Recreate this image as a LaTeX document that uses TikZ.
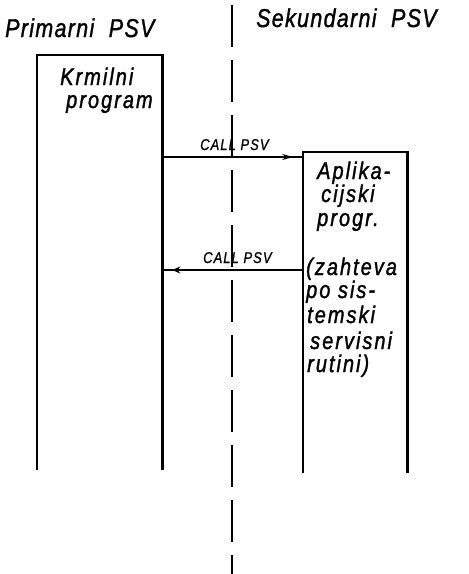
\documentclass[tikz,border=0pt]{standalone}
\usepackage{fontspec}
\usepackage{graphicx}
\setmainfont{Liberation Sans}
\newfontfamily\handfont[LetterSpace=10,FakeBold=1.6]{Liberation Sans}
\newfontfamily\titlefont[LetterSpace=6,FakeBold=1.4]{Liberation Sans}
\newfontfamily\lblfont[LetterSpace=8,FakeBold=1.2]{Liberation Sans}
\newcommand\tallbox[1]{\scalebox{1}[1.2]{#1}}
\usetikzlibrary{arrows.meta,decorations.markings}
\tikzset{
  x=1pt,y=-1pt,
  heavy/.style={line width=2.3pt},
  title/.style={font=\titlefont\itshape\fontsize{21.5}{22}\selectfont,anchor=base west,inner sep=0pt},
  btxt/.style={font=\handfont\itshape\fontsize{20}{20}\selectfont,anchor=base west,inner sep=0pt},
  lbl/.style={font=\lblfont\itshape\fontsize{13}{14}\selectfont,anchor=base west,inner sep=0pt},
  divider/.style={line width=2.2pt,dash pattern=on 42pt off 13pt},
  fwd/.style={line width=1.5pt,decoration={markings,mark=at position 0.93 with {\arrow{Stealth[length=11pt,width=6pt]}}},postaction={decorate}},
  back/.style={line width=1.5pt,decoration={markings,mark=at position 0.93 with {\arrow{Stealth[length=8pt,width=7pt]}}},postaction={decorate}},
}
\begin{document}
\begin{tikzpicture}
\useasboundingbox (0,0) rectangle (469,574);
% boxes as named rectangles (open bottom)
\node[inner sep=0pt,minimum width=125pt,minimum height=415pt,anchor=north west] (lbox) at (37,55) {};
\node[inner sep=0pt,minimum width=104pt,minimum height=321pt,anchor=north west] (rbox) at (303,152) {};
\draw[heavy] (lbox.south west) -- (lbox.north west) -- (lbox.north east) -- (lbox.south east);
\draw[heavy] (rbox.south west) -- (rbox.north west) -- (rbox.north east) -- (rbox.south east);
% divider
\coordinate (dtop) at (232,5);
\coordinate (dbot) at (232,574);
\draw[divider] (dtop) -- (dbot);
% titles
\node[title] (t1) at (5,37) {\tallbox{Primarni\ \ PSV}};
\node[title] (t2) at (256,27) {\tallbox{Sekundarni\ \ PSV}};
% left box text
\node[btxt] (k1) at (60,85) {\tallbox{Krmilni}};
\node[btxt] (k2) at (66,108) {\tallbox{program}};
% right box text
\node[btxt] (r1) at (317,179) {\tallbox{Aplika-}};
\node[btxt] (r2) at (321,202) {\tallbox{cijski}};
\node[btxt] (r3) at (317,226) {\tallbox{progr.}};
\node[btxt] (r4) at (306,275) {\tallbox{(zahteva}};
\node[btxt] (r5) at (306,298) {\tallbox{po\ sis-}};
\node[btxt] (r6) at (307,323) {\tallbox{temski}};
\node[btxt] (r7) at (310,349) {\tallbox{servisni}};
\node[btxt] (r8) at (307,372) {\tallbox{rutini)}};
% arrows
\coordinate (y1) at (0,157);
\coordinate (y2) at (0,270);
\draw[fwd] (lbox.east |- y1) -- (rbox.west |- y1);
\draw[back] (rbox.west |- y2) -- (lbox.east |- y2);
\node[lbl] (c1) at (200,150) {\tallbox{CALL PSV}};
\node[lbl] (c2) at (203,263) {\tallbox{CALL PSV}};
\end{tikzpicture}
\end{document}
